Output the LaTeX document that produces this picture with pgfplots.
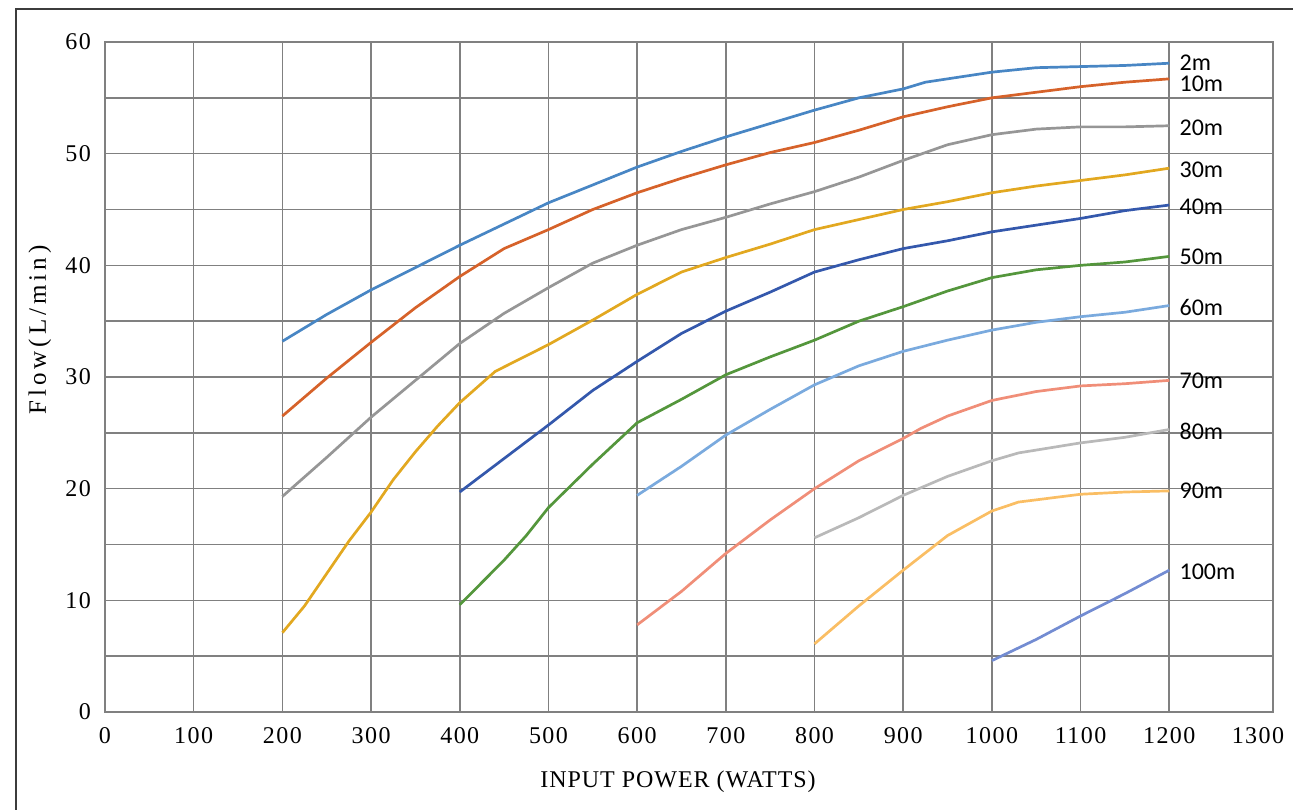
\documentclass[border=0pt]{standalone}
\usepackage{fontspec}
\setmainfont{Liberation Serif}
\newfontfamily\tickfont[LetterSpace=6]{Liberation Serif}
\newfontfamily\ylfont[LetterSpace=16]{Liberation Serif}
\newfontfamily\xlfont[LetterSpace=4]{Liberation Serif}
\newfontfamily\lblfont{Carlito}
\usepackage{pgfplots}
\pgfplotsset{compat=1.18}
\definecolor{gridgray}{RGB}{128,128,128}
\definecolor{framegray}{RGB}{60,60,60}
\definecolor{cA}{RGB}{72,134,196}
\definecolor{cB}{RGB}{214,98,42}
\definecolor{cC}{RGB}{150,150,150}
\definecolor{cD}{RGB}{226,168,32}
\definecolor{cE}{RGB}{52,88,172}
\definecolor{cF}{RGB}{84,150,60}
\definecolor{cG}{RGB}{122,170,222}
\definecolor{cH}{RGB}{240,142,120}
\definecolor{cI}{RGB}{185,185,185}
\definecolor{cJ}{RGB}{250,190,100}
\definecolor{cK}{RGB}{115,140,210}
\begin{document}
\begin{tikzpicture}
\path[use as bounding box] (-52.5pt,-48.5pt) rectangle (594pt,356pt);
\draw[line width=1pt, framegray] (-44.5pt,-60pt) -- (-44.5pt,351.5pt) -- (610pt,351.5pt);
\begin{axis}[
  at={(0,0)}, anchor=south west,
  scale only axis, width=584pt, height=335pt,
  xmin=0, xmax=1317, ymin=0, ymax=60,
  xtick={0,100,...,1200}, extra x ticks={1300}, extra x tick style={grid=none},
  ytick={0,10,...,60}, minor ytick={5,15,...,55},
  xmajorgrids, ymajorgrids, yminorgrids,
  major tick length=0pt, minor tick length=0pt,
  grid style={line width=0.8pt, gridgray},
  minor grid style={line width=0.8pt, gridgray},
  axis line style={line width=0.8pt, gridgray},
  scaled x ticks=false,
  /pgf/number format/assume math mode=true,
  /pgf/number format/set thousands separator={},
  tick label style={font=\tickfont\fontsize{12}{14}\selectfont, black},
  xticklabel style={yshift=-4pt},
  yticklabel style={xshift=-3.5pt},
  xlabel={\xlfont\fontsize{12}{14}\selectfont INPUT POWER (WATTS)},
  ylabel={\ylfont\fontsize{12.5}{14}\selectfont Flow(L/min)},
  xlabel style={at={(axis description cs:0.4906,-0.1045)}, anchor=center},
  ylabel style={at={(axis description cs:-0.0557,0.57)}, anchor=center},
  every axis plot/.append style={line width=1.35pt, no markers},
  clip=false,
]
\addplot[cA] coordinates {(200,33.2)(250,35.6)(300,37.8)(350,39.8)(400,41.8)(450,43.7)(500,45.6)(550,47.2)(600,48.8)(650,50.2)(700,51.5)(750,52.7)(800,53.9)(850,55.0)(900,55.8)(925,56.4)(1000,57.3)(1050,57.7)(1100,57.8)(1150,57.9)(1200,58.1)}
  node[pos=1, anchor=west, inner sep=0pt, xshift=4.5pt, yshift=0.5pt, black, font=\lblfont\fontsize{12}{14}\selectfont] {2m};
\addplot[cB] coordinates {(200,26.5)(250,29.9)(300,33.1)(350,36.2)(400,39.0)(450,41.5)(500,43.2)(550,45.0)(600,46.5)(650,47.8)(700,49.0)(750,50.1)(800,51.0)(850,52.1)(900,53.3)(950,54.2)(1000,55.0)(1050,55.5)(1100,56.0)(1150,56.4)(1200,56.7)}
  node[pos=1, anchor=west, inner sep=0pt, xshift=4.5pt, yshift=-2.5pt, black, font=\lblfont\fontsize{12}{14}\selectfont] {10m};
\addplot[cC] coordinates {(200,19.3)(250,22.8)(300,26.4)(350,29.7)(400,33.0)(450,35.7)(500,38.0)(550,40.2)(600,41.8)(650,43.2)(700,44.3)(750,45.5)(800,46.6)(850,47.9)(900,49.4)(950,50.8)(1000,51.7)(1050,52.2)(1100,52.4)(1150,52.4)(1200,52.5)}
  node[pos=1, anchor=west, inner sep=0pt, xshift=4.5pt, yshift=-1pt, black, font=\lblfont\fontsize{12}{14}\selectfont] {20m};
\addplot[cD] coordinates {(200,7.1)(225,9.5)(250,12.4)(275,15.3)(300,17.9)(325,20.8)(350,23.3)(375,25.6)(400,27.7)(440,30.5)(500,32.9)(550,35.1)(600,37.4)(650,39.4)(700,40.7)(750,41.9)(800,43.2)(850,44.1)(900,45.0)(950,45.7)(1000,46.5)(1050,47.1)(1100,47.6)(1150,48.1)(1200,48.7)}
  node[pos=1, anchor=west, inner sep=0pt, xshift=4.5pt, yshift=-1pt, black, font=\lblfont\fontsize{12}{14}\selectfont] {30m};
\addplot[cE] coordinates {(400,19.7)(450,22.7)(500,25.7)(550,28.8)(600,31.4)(650,33.9)(700,35.9)(750,37.6)(800,39.4)(850,40.5)(900,41.5)(950,42.2)(1000,43.0)(1050,43.6)(1100,44.2)(1150,44.9)(1200,45.4)}
  node[pos=1, anchor=west, inner sep=0pt, xshift=4.5pt, yshift=-1pt, black, font=\lblfont\fontsize{12}{14}\selectfont] {40m};
\addplot[cF] coordinates {(400,9.6)(425,11.6)(450,13.6)(475,15.8)(500,18.3)(550,22.2)(600,25.9)(650,28.0)(700,30.2)(750,31.8)(800,33.3)(850,35.0)(900,36.3)(950,37.7)(1000,38.9)(1050,39.6)(1100,40.0)(1150,40.3)(1200,40.8)}
  node[pos=1, anchor=west, inner sep=0pt, xshift=4.5pt, black, font=\lblfont\fontsize{12}{14}\selectfont] {50m};
\addplot[cG] coordinates {(600,19.4)(650,22.0)(700,24.8)(750,27.1)(800,29.3)(850,31.0)(900,32.3)(950,33.3)(1000,34.2)(1050,34.9)(1100,35.4)(1150,35.8)(1200,36.4)}
  node[pos=1, anchor=west, inner sep=0pt, xshift=4.5pt, yshift=-1pt, black, font=\lblfont\fontsize{12}{14}\selectfont] {60m};
\addplot[cH] coordinates {(600,7.8)(650,10.8)(700,14.2)(750,17.2)(800,20.0)(850,22.5)(900,24.5)(920,25.4)(950,26.5)(1000,27.9)(1050,28.7)(1100,29.2)(1150,29.4)(1200,29.7)}
  node[pos=1, anchor=west, inner sep=0pt, xshift=4.5pt, black, font=\lblfont\fontsize{12}{14}\selectfont] {70m};
\addplot[cI] coordinates {(800,15.6)(850,17.4)(900,19.4)(950,21.1)(1000,22.5)(1030,23.2)(1100,24.1)(1150,24.6)(1200,25.3)}
  node[pos=1, anchor=west, inner sep=0pt, xshift=4.5pt, yshift=-1pt, black, font=\lblfont\fontsize{12}{14}\selectfont] {80m};
\addplot[cJ] coordinates {(800,6.1)(850,9.5)(900,12.7)(950,15.8)(1000,18.0)(1030,18.8)(1100,19.5)(1150,19.7)(1200,19.8)}
  node[pos=1, anchor=west, inner sep=0pt, xshift=4.5pt, black, font=\lblfont\fontsize{12}{14}\selectfont] {90m};
\addplot[cK] coordinates {(1000,4.6)(1050,6.5)(1100,8.6)(1150,10.6)(1200,12.7)}
  node[pos=1, anchor=west, inner sep=0pt, xshift=4.5pt, yshift=-1pt, black, font=\lblfont\fontsize{12}{14}\selectfont] {100m};
\end{axis}
\end{tikzpicture}
\end{document}
